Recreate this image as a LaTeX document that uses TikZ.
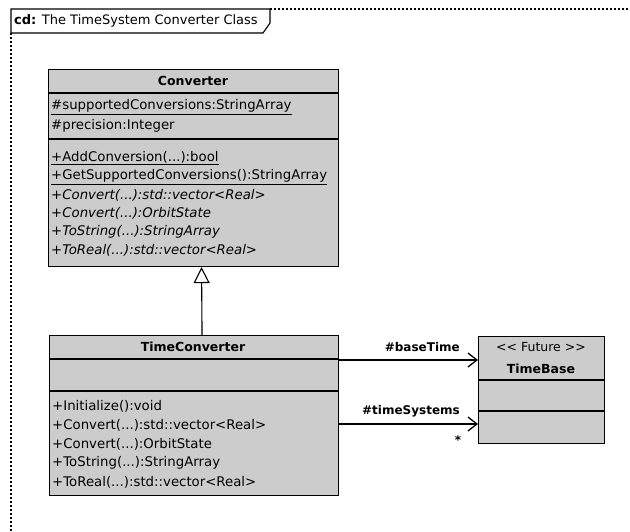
\documentclass[tikz,border=0pt]{standalone}
\usepackage{fontspec}
\setmainfont{DejaVu Sans}
\usetikzlibrary{arrows.meta}
\begin{document}
\begin{tikzpicture}[x=1pt,y=-1pt,
  classbox/.style={draw, line width=1.1pt, fill=black!20, rectangle, anchor=north west, inner sep=0pt},
  sepline/.style={line width=1.1pt},
  member/.style={anchor=west, inner sep=0pt, font=\fontsize{13.3}{16}\selectfont},
  cname/.style={inner sep=0pt, font=\bfseries\fontsize{12.5}{15}\selectfont},
  stereo/.style={inner sep=0pt, font=\fontsize{12.5}{15}\selectfont},
  rolelbl/.style={anchor=east, inner sep=0pt, font=\bfseries\fontsize{12}{14}\selectfont},
  assoc/.style={line width=1.1pt, -{Straight Barb[length=9pt,width=14pt,line width=1.3pt]}},
  gen/.style={line width=1.1pt, -{Triangle[open,length=16pt,width=16pt,line width=1.1pt]}},
  framedots/.style={line width=1.5pt, dash pattern=on 2pt off 2pt}
]
\useasboundingbox (0,0) rectangle (630,531);
\fill[white] (0,0) rectangle (630,531);

% frame
\draw[framedots] (270,9) -- (630,9);
\draw[framedots] (11,33) -- (11,531);
\draw[line width=1.1pt, fill=white] (11,9) -- (270,9) -- (270,23) -- (263,33) -- (11,33) -- cycle;
\node[anchor=west, inner sep=0pt, font=\fontsize{13}{15}\selectfont] (title) at (14,21) {\textbf{cd:} The TimeSystem Converter Class};

% Converter
\node[classbox, minimum width=290pt, minimum height=197pt] (conv) at (48,69) {};
\draw[sepline] ([yshift=-24pt]conv.north west) -- ([yshift=-24pt]conv.north east);
\draw[sepline] ([yshift=-70pt]conv.north west) -- ([yshift=-70pt]conv.north east);
\node[cname] (convname) at (193,81) {Converter};
\node[member] (c1) at (51,107) {\underline{\#supportedConversions:StringArray}};
\node[member] (c2) at (51,126) {\#precision:Integer};
\node[member] (c3) at (51,158) {\underline{+AddConversion(...):bool}};
\node[member] (c4) at (51,177) {\underline{+GetSupportedConversions():StringArray}};
\node[member] (c5) at (51,195) {\itshape +Convert(...):std::vector<Real>};
\node[member] (c6) at (51,213) {\itshape +Convert(...):OrbitState};
\node[member] (c7) at (51,232) {\itshape +ToString(...):StringArray};
\node[member] (c8) at (51,250) {\itshape +ToReal(...):std::vector<Real>};

% TimeConverter
\node[classbox, minimum width=289pt, minimum height=160pt] (tc) at (49,335) {};
\draw[sepline] ([yshift=-24pt]tc.north west) -- ([yshift=-24pt]tc.north east);
\draw[sepline] ([yshift=-56pt]tc.north west) -- ([yshift=-56pt]tc.north east);
\node[cname] (tcname) at (193,347) {TimeConverter};
\node[member] (t1) at (52,406) {+Initialize():void};
\node[member] (t2) at (52,425) {+Convert(...):std::vector<Real>};
\node[member] (t3) at (52,444) {+Convert(...):OrbitState};
\node[member] (t4) at (52,463) {+ToString(...):StringArray};
\node[member] (t5) at (52,482) {+ToReal(...):std::vector<Real>};

% TimeBase
\node[classbox, minimum width=126pt, minimum height=107pt] (tb) at (478,336) {};
\draw[sepline] ([yshift=-44pt]tb.north west) -- ([yshift=-44pt]tb.north east);
\draw[sepline] ([yshift=-75pt]tb.north west) -- ([yshift=-75pt]tb.north east);
\node[stereo] (tbst) at (541,347) {<{}< Future >{}>};
\node[cname] (tbname) at (541,369) {TimeBase};

% generalization
\draw[gen] ([xshift=8pt]tc.north) -- ([xshift=8pt]conv.south);

% associations
\draw[assoc] ([yshift=-25pt]tc.north east) -- ([yshift=-24pt]tb.north west);
\draw[assoc] ([yshift=-89pt]tc.north east) -- ([yshift=-88pt]tb.north west);
\node[rolelbl] (r1) at (460,347) {\#baseTime};
\node[rolelbl] (r2) at (460,411) {\#timeSystems};
\node[inner sep=0pt, font=\bfseries\fontsize{12}{14}\selectfont] (m2) at (458,440) {*};
\end{tikzpicture}
\end{document}
